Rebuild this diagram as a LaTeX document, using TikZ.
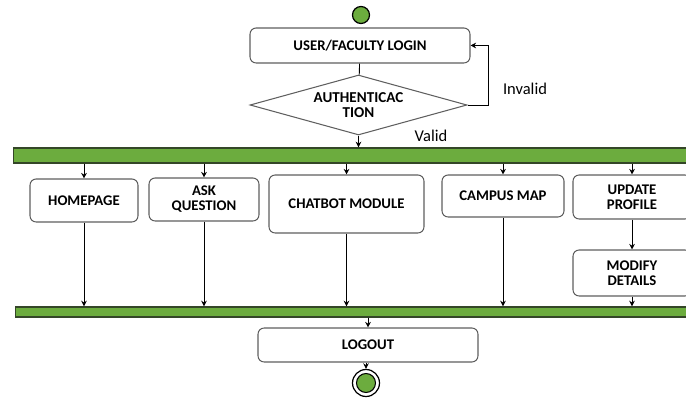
\documentclass[tikz,border=0pt]{standalone}
\usepackage{fontspec}
\setmainfont{Carlito}
\usepackage{tikz}
\usetikzlibrary{shapes.geometric,arrows.meta}
\definecolor{barfill}{RGB}{108,172,62}
\definecolor{barline}{RGB}{52,70,40}
\definecolor{boxline}{RGB}{95,95,95}
\tikzset{
	act/.style={draw=boxline, line width=0.6pt, rounded corners=3.5pt, fill=white, align=center, inner sep=1pt, font=\bfseries\fontsize{8.4}{8.6}\selectfont},
	bar/.style={draw=barline, line width=0.8pt, fill=barfill, inner sep=0pt},
	flow/.style={line width=0.5pt, -{Stealth[length=3.2pt,width=3.2pt]}},
}

\begin{document}
\begin{tikzpicture}[x=0.02cm, y=-0.02cm]
			%%%%% START %%%%%
			\path[use as bounding box, clip] (0,0) rectangle (686,398);
			
			\node[circle, draw=black, line width=0.7pt, fill=barfill, minimum size=0.34cm, inner sep=0pt] (start) at (361,15) {};
			\node[act, minimum width=4.4cm, minimum height=0.7cm] (login) at (360,45.5) {USER/FACULTY LOGIN};
			\node[diamond, draw=boxline, line width=0.6pt, aspect=3.6, inner sep=0pt, minimum width=4.34cm, minimum height=1.2cm, align=center, font=\bfseries\fontsize{8.6}{8.8}\selectfont] (auth) at (358.5,105) {AUTHENTICAC\\TION};
			
			\node[bar, minimum width=13.6cm, minimum height=0.3cm] (topbar) at (353.5,155.5) {};
			\node[bar, minimum width=13.5cm, minimum height=0.2cm] (botbar) at (353,312) {};
			
			\node[act, minimum width=2.16cm, minimum height=0.86cm] (home) at (84,200.5) {HOMEPAGE};
			\node[act, minimum width=2.2cm, minimum height=0.86cm] (ask) at (204,199.5) {ASK\\QUESTION};
			\node[act, minimum width=3.1cm, minimum height=1.16cm] (chat) at (346.5,204) {CHATBOT MODULE};
			\node[act, minimum width=2.44cm, minimum height=0.84cm] (map) at (503,196) {CAMPUS MAP};
			\node[act, minimum width=2.36cm, minimum height=0.88cm] (update) at (632,197) {UPDATE\\PROFILE};
			\node[act, minimum width=2.36cm, minimum height=0.92cm] (modify) at (632,273) {MODIFY\\DETAILS};
			
			\node[act, minimum width=4.4cm, minimum height=0.68cm] (logout) at (368,345) {LOGOUT};
			\node[circle, draw=black, line width=0.7pt, fill=white, minimum size=0.54cm, inner sep=0pt] (stop) at (366,383) {};
			\node[circle, draw=black, line width=0.6pt, fill=barfill, minimum size=0.38cm, inner sep=0pt] (stopdot) at (stop) {};
			
			% login and check
			\draw[line width=0.5pt] (login) -- (auth);
			\draw[flow] (auth.south) -- (auth.south |- topbar.north);
			\node[font=\fontsize{9.4}{10}\selectfont] (valid) at (431,136) {Valid};
			\coordinate (loop) at (488,105);
			\draw[flow] (auth.east) -- (loop) |- (login.east);
			\node[font=\fontsize{9.4}{10}\selectfont] (invalid) at (525,89) {Invalid};
			
			% fork
			\foreach \n in {home,ask,chat,map,update}
				\draw[flow] (topbar.south -| \n) -- (\n);
			\draw[flow] (update) -- (modify);
			
			% join
			\foreach \n in {home,ask,chat,map,modify}
				\draw[flow] (\n) -- (botbar.north -| \n);
			\draw[flow] (botbar.south -| logout) -- (logout);
			\draw[flow] (logout.south -| stop) -- (stop);
			%%%%% END %%%%%
\end{tikzpicture}
\end{document}
